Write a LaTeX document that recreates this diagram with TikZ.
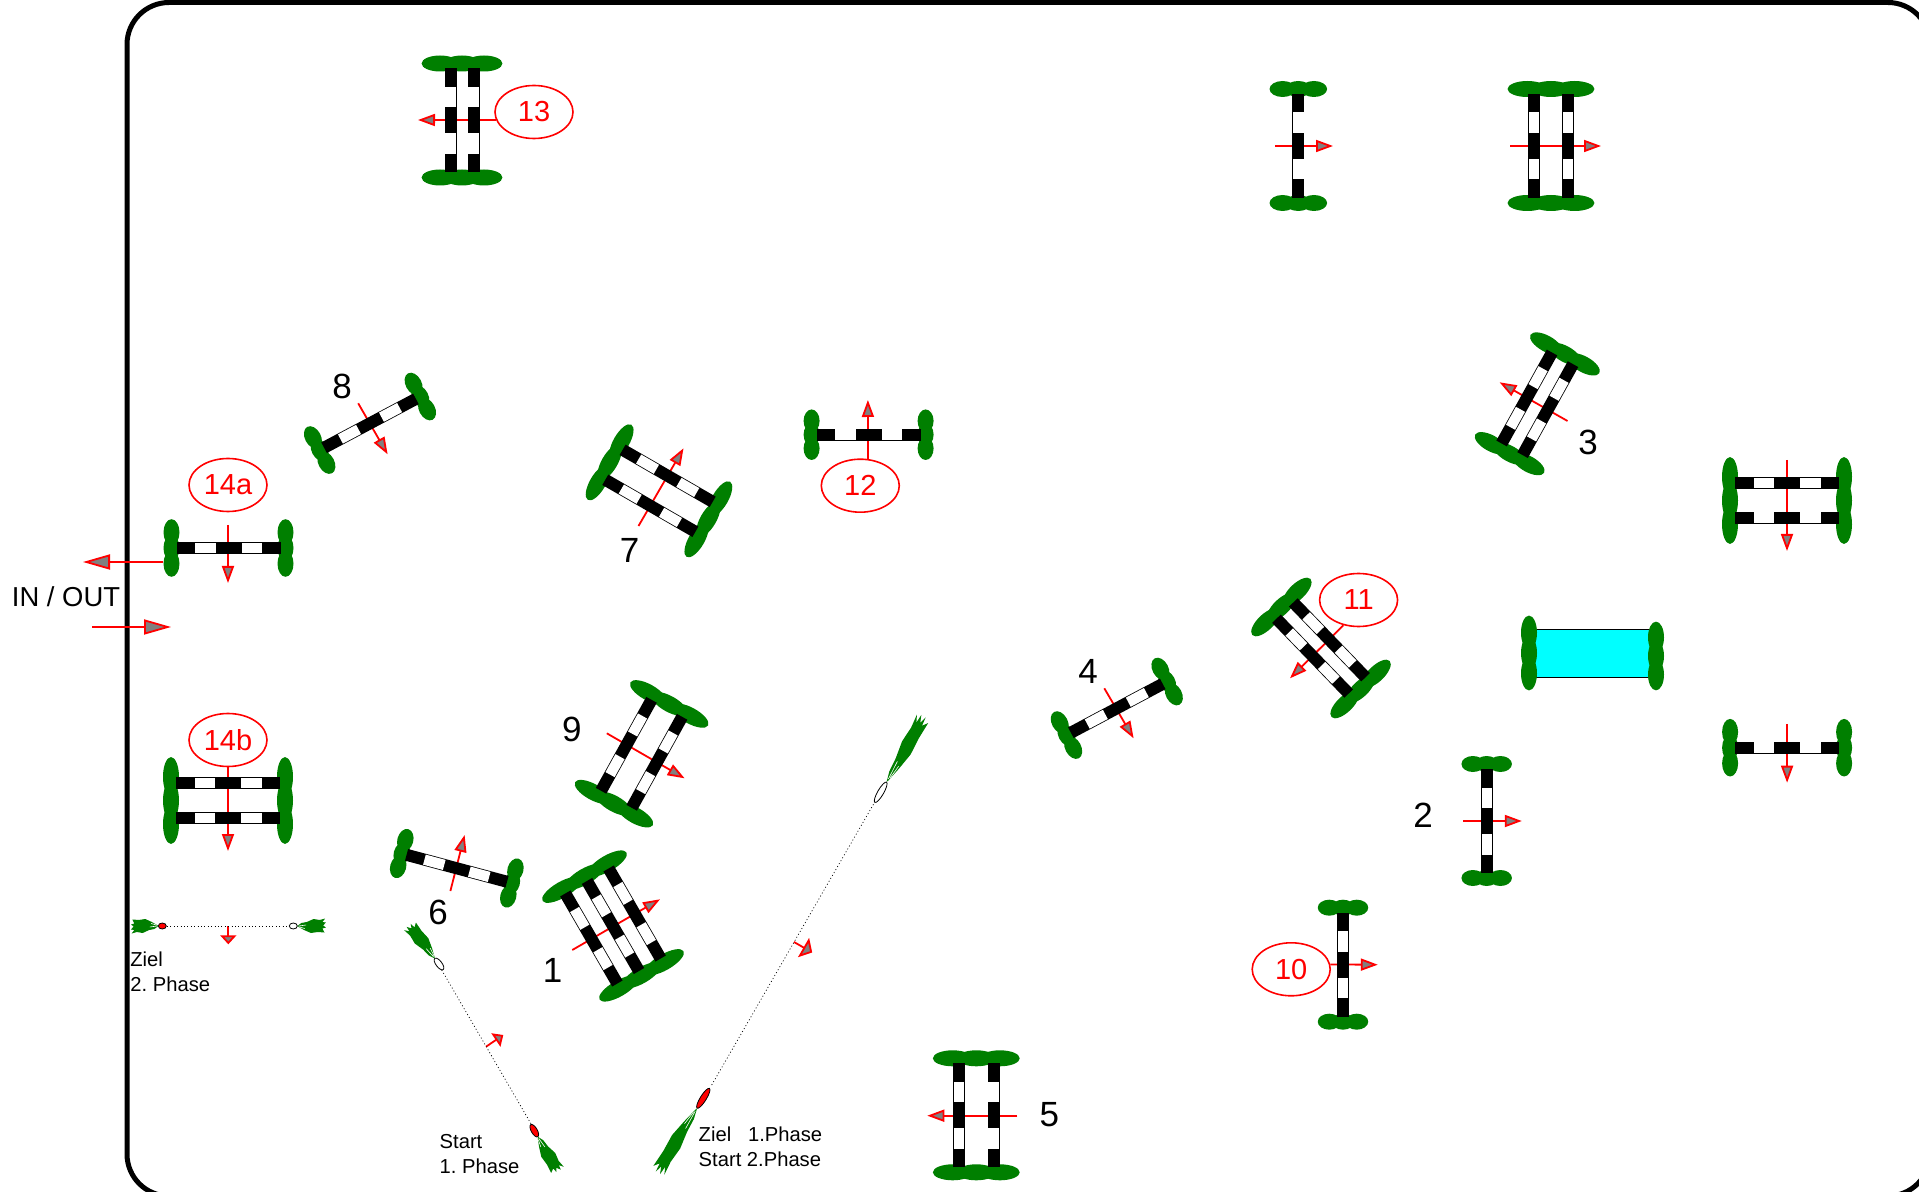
\documentclass[tikz,border=0pt]{standalone}
\usepackage{fontspec}
\setmainfont{Liberation Sans}
\usetikzlibrary{arrows.meta,shapes.geometric}
\definecolor{hedgegreen}{HTML}{007F00}
\definecolor{tipgray}{HTML}{808080}
\definecolor{waterblue}{HTML}{00FFFF}
\tikzset{
  num/.style={font=\fontsize{17.5}{20}\selectfont, inner sep=0pt},
  tag/.style={ellipse, draw=red, line width=0.8pt, text=red, minimum width=39pt, minimum height=26.5pt,
              inner sep=0pt, font=\fontsize{14.5}{16}\selectfont},
  note/.style={anchor=west, align=left, inner sep=0pt, font=\fontsize{10.1}{12.4}\selectfont\frenchspacing},
  dirn/.style={-{Triangle[length=8.5pt, width=6pt, fill=tipgray]}, draw=red, line width=0.9pt},
  dirbig/.style={-{Triangle[length=13.5pt, width=7.5pt, fill=tipgray]}, draw=red, line width=0.9pt},
  dirsmall/.style={-{Triangle[length=4.5pt, width=8pt, fill=tipgray]}, draw=red, line width=0.9pt},
  dirwide/.style={-{Triangle[length=5pt, width=11pt, fill=tipgray]}, draw=red, line width=0.9pt},
  finish/.style={draw=black, line width=0.35pt, dash pattern=on 0.5pt off 1.2pt},
  pics/hedge/.style={code={
    \foreach \p in {-.55,0,.55}
      \fill[hedgegreen] (0,\p*#1) ellipse [x radius=8, y radius=.46*#1];
  }},
  pics/jump/.style 2 args={code={
    \pic[transform shape] at (-57,0) {hedge=#2};
    \pic[transform shape] at (57,0) {hedge=#2};
    \foreach \r in {#1} {
      \fill[black] (-52,\r-6) rectangle (52,\r+6);
      \fill[white] (-33.5,\r-5.2) rectangle (-13,\r+5.2);
      \fill[white] (13,\r-5.2) rectangle (33.5,\r+5.2);
    }
  }},
  pics/post/.style n args={3}{code={
    \fill[hedgegreen, shift={(#2,0)}, xscale=#3] (0,0) -- (6,-3) -- (14,-4) -- (24,-7) -- (33,-6) -- (41,-7.5)
      -- (37,-4) -- (42,-3.5) -- (38,-0.5) -- (42,1.5) -- (37,2.5) -- (40,6.5) -- (30,6) -- (20,7) -- (10,4) -- (2,1) -- cycle;
    \draw[white, line width=0.3pt, shift={(#2,0)}, xscale=#3] (2,0) -- (13,-1) (3,1) -- (11,2.5);
    \draw[fill=#1, line width=0.4pt] (0,0) ellipse [x radius=#2, y radius=3];
  }},
}
\begin{document}
\begin{tikzpicture}[x=0.5pt, y=-0.5pt]
  \useasboundingbox (0,0) rectangle (1919,1192);
  \clip (0,0) rectangle (1919,1192);
  \fill[white] (0,0) rectangle (1919,1192);
  \draw[line width=2.5pt, rounded corners=21pt] (127,2.5) rectangle (1930,1196);

  \node[tag] (e13) at (534,112) {13};
  \node[tag] (e14a) at (228,485) {14a};
  \node[tag] (e14b) at (228,740) {14b};
  \node[tag] (e12) at (860.3,485.7) {12};
  \node[tag] (e11) at (1358.6,600) {11};
  \node[tag] (e10) at (1291.2,969.3) {10};

  \node[num] (n1) at (552.7,970) {1};
  \node[num] (n2) at (1423,815.7) {2};
  \node[num] (n3) at (1588.2,442.7) {3};
  \node[num] (n4) at (1088.2,671.7) {4};
  \node[num] (n5) at (1049.3,1114.3) {5};
  \node[num] (n6) at (438.2,912.7) {6};
  \node[num] (n7) at (629.6,550) {7};
  \node[num] (n8) at (342.2,386) {8};
  \node[num] (n9) at (571.8,729.3) {9};

  \node[inner sep=0pt, font=\fontsize{13.7}{16}\selectfont] (inout) at (66,597) {IN / OUT};
  \node[note] (goal2) at (130,971.5) {Ziel\\2. Phase};
  \node[note] (start1) at (439.3,1154) {Start\\1. Phase};
  \node[note] (goal1) at (698.3,1146.7) {Ziel\ \ \ 1.Phase\\Start 2.Phase};

  \draw[dirbig] (163,562) -- (83,562);
  \draw[dirbig] (92,627) -- (171,627);
  \draw[dirn] (228,525) -- (228,583);
  \draw[dirn] (e14b.south) -- (228,851);
  \draw[dirn] (e13.192) -- (418,120);
  \draw[dirn] (1275,146) -- (1333,146);
  \draw[dirn] (1510,146) -- (1601,146);
  \draw[dirn] (358.2,403.3) -- (387.6,454.3);
  \draw[dirn] (638.5,526) -- (683.5,448.3);
  \draw[dirn] (e12.74) -- (867.9,400);
  \draw[dirn] (1567.5,421) -- (1499.6,382.3);
  \draw[dirn] (e11.239) -- (1290,678.3);
  \draw[dirn] (1104.3,688.3) -- (1133.6,738.3);
  \draw[dirn] (606.8,733.3) -- (684.6,778.3);
  \draw[dirn] (450.4,891) -- (464.6,835);
  \draw[dirn] (572.3,950) -- (660,899.3);
  \draw[dirn] (1463,821) -- (1521.8,821);
  \draw[dirn] (e10.7) -- (1377.8,964.7);
  \draw[dirn] (1787,460) -- (1787,551);
  \draw[dirn] (1787.1,724) -- (1787.1,782.7);
  \draw[dirn] (1017.3,1115.7) -- (927.3,1115.7);
  \draw[dirsmall] (228.3,926) -- (228.3,944.3);
  \draw[dirsmall] (486,1046.7) -- (503.3,1035);
  \draw[dirwide] (794,942) -- (812.2,952.5);

  \pic at (228.5,548) {jump={0}{28.5}};
  \pic at (228,800.5) {jump={-17.5,17.5}{43}};
  \pic[rotate=90] at (462,120.5) {jump={-11.5,11.5}{40}};
  \pic[rotate=90] at (1298.3,146) {jump={0}{28.5}};
  \pic[rotate=90] at (1551,146) {jump={-17.2,17.2}{43}};
  \pic[rotate=28] at (370,423.3) {jump={0}{26}};
  \pic[rotate=-30] at (659,490.8) {jump={-17.3,17.3}{43}};
  \pic at (868.6,434.7) {jump={0}{25}};
  \pic[rotate=61] at (1537.3,403.8) {jump={-12,12}{39}};
  \pic[rotate=-46] at (1321,648) {jump={-11.7,11.7}{40}};
  \pic[rotate=28] at (1116.8,708.3) {jump={0}{26}};
  \pic[rotate=61] at (641.6,753.8) {jump={-17.5,17.5}{44}};
  \pic[rotate=-15] at (456.8,868.3) {jump={0}{25}};
  \pic[rotate=-60] at (613,926) {jump={-25,0,25}{48}};
  \pic[rotate=90] at (1486.7,821) {jump={0}{25}};
  \pic[rotate=90] at (1343,964.7) {jump={0}{25}};
  \pic at (1787,500.5) {jump={-17.2,17.2}{43}};
  \pic at (1787.1,747.7) {jump={0}{28.5}};
  \pic[rotate=90] at (976.3,1115.3) {jump={-17.3,17.3}{43}};

  \fill[waterblue] (1533,629.3) rectangle (1652,677.7);
  \draw[line width=0.75pt] (1533,629.3) -- (1652,629.3) (1533,677.7) -- (1652,677.7);
  \pic at (1529,653) {hedge=37};
  \pic at (1656,656) {hedge=34};

  \draw[finish] (167,926) -- (289,926);
  \draw[finish] (441.7,970) -- (531.7,1125);
  \draw[finish] (711.7,1085) -- (874.6,802.3);
  \pic[rotate=180] at (162.3,926) {post={red}{4}{.65}};
  \pic at (293.3,926) {post={white}{4}{.68}};
  \pic[rotate=127] at (439,964) {post={white}{7}{1}};
  \pic[rotate=-60] at (534.3,1130.7) {post={red}{7}{.95}};
  \pic[rotate=-122] at (703.3,1098.3) {post={red}{11.7}{1.8}};
  \pic[rotate=60] at (880.7,792.3) {post={white}{11.7}{1.8}};
\end{tikzpicture}
\end{document}
